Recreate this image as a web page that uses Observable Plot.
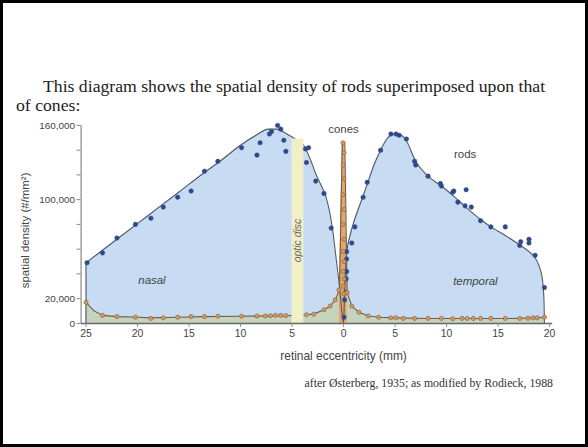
<!DOCTYPE html>
<html><head><meta charset="utf-8">
<script src="https://cdn.jsdelivr.net/npm/d3@7"></script>
<script src="https://cdn.jsdelivr.net/npm/@observablehq/plot@0.6"></script>
<style>
html,body{margin:0;padding:0;background:#000;width:588px;height:447px;overflow:hidden}
#page{position:absolute;left:3px;top:3px;width:582px;height:441px;background:#fff}
.t{position:absolute;font-family:"Liberation Serif","DejaVu Serif",serif;color:#222;white-space:nowrap}
#chart{position:absolute;left:-3px;top:107px}
#chart svg{overflow:visible}
</style></head>
<body><div id="page">
<div class="t" id="t1" style="left:40px;top:73px;font-size:17.7px">This diagram shows the spatial density of rods superimposed upon that</div>
<div class="t" id="t2" style="left:13px;top:92px;font-size:17.7px">of cones:</div>
<div id="chart"></div>
<div class="t" id="cap" style="right:32px;top:373px;font-size:11.8px;color:#333">after Østerberg, 1935; as modified by Rodieck, 1988</div>
</div>
<script>
// eccentricity in mm: negative = nasal, positive = temporal; density in #/mm²
const rodLineX = [-25,-22,-19,-16,-13.5,-12,-10,-8.5,-7.3,-6.5,-5.5,-4.7,-3.8,-3.2,-2.7,-2.2,-1.7,-1.1,-0.7,-0.4,-0.2,0,0.1,0.3,0.6,1.0,1.5,1.9,2.4,3.0,3.6,4.2,4.8,5.3,6.0,7.0,8.2,9.5,10.8,12,13.3,14.5,15.7,17,18,18.6,19.0,19.3,19.45,19.5];
const rodLineY = [49000,68000,87000,106000,122000,131000,144000,152000,157000,157000,153000,149000,143000,132000,121000,112000,102000,78000,51000,30000,12000,0,25000,57000,70000,82000,94000,103000,115000,129000,140000,149000,153000,153000,149000,131000,119000,111000,102000,93000,84000,77000,71000,64000,58000,53000,46000,36000,20000,0];
const rodDotX = [-24.9,-23.4,-22,-20.2,-18.7,-17.5,-16.1,-14.8,-13.5,-12.2,-9.9,-8.4,-8.1,-7.2,-7.0,-6.4,-6.1,-5.8,-5.6,-3.7,-3.4,-3.6,-2.7,-1.9,-1.2,0.05,0.1,0.2,0.25,0.3,0.3,0.3,0.8,1.1,1.9,2.3,3.6,4.6,5.1,5.4,6.1,6.9,7.0,8.2,9.4,9.5,10.6,10.7,11.9,11.1,11.8,12.4,13.3,14.3,15.7,17.1,17.2,18.0,18.0,18.6,19.5];
const rodDotY = [49000,57000,69000,80000,85000,94000,102000,107000,123000,131000,142000,136000,146000,153000,155000,160000,157000,148000,139000,141000,142000,130000,115000,105000,77000,5000,19000,25000,36000,42000,52000,58000,65000,78000,102000,114000,140000,153000,153000,152000,149000,131000,128000,119000,113000,111000,106000,107000,108000,98000,95000,94000,83000,78000,78000,63000,66000,68000,65000,55000,29000];
const coneLineX = [-25,-24.2,-23.4,-22,-20,-18.7,-16,-13.5,-10,-7,-5.5,-3.6,-2.9,-1.9,-1.3,-0.8,-0.4,-0.12,0.12,0.35,0.8,1.5,2.4,3.4,5,8,12,16,18.8,19.5];
const coneLineY = [17000,10000,6500,5500,5000,4500,5000,5500,5800,6000,6200,7000,7500,11000,14000,19000,27000,146000,146000,25000,14000,9000,6000,5000,4500,4000,4000,4000,4500,5000];
const coneDotX = [-25,-23.4,-22,-20.2,-18.7,-17.5,-16.1,-14.8,-13.5,-12.2,-9.9,-8.4,-7.6,-7.1,-6.6,-6.1,-5.6,-3.6,-2.9,-1.9,-1.3,-0.8,-0.45,-0.05,0.05,-0.05,0.05,-0.05,0.05,-0.05,0.05,-0.05,0.05,-0.05,0.05,-0.05,0.05,0.35,0.8,1.5,2.4,3.4,4.6,5.1,5.8,6.9,8.2,9.5,10.6,11.5,12,12.6,13.3,14.3,15.7,17.1,17.9,18.4,18.8,19.5];
const coneDotY = [17000,6500,5500,5000,4000,4500,5000,5500,5500,5800,5800,6000,6000,6200,6500,6500,6300,7000,7500,11000,14000,19000,27000,146000,138000,128000,117000,104000,92000,80000,68000,58000,50000,42000,36000,30000,24000,25000,14000,9000,6000,5000,4500,4500,4000,4000,4000,4000,3800,4000,4000,4000,4000,4000,4000,4000,4200,4500,4500,5000];
const spikeX = [-0.4,-0.12,0.12,0.35];
const spikeY = [27000,146000,146000,25000];
const opticDisc = [-5.0, -3.85];
const xTicks = [-25,-20,-15,-10,-5,0,5,10,15,20];
const yTicks = [0,20000,40000,60000,80000,100000,120000,140000,160000];
const yLabeled = [0,20000,100000,160000];
const plainLabels = [
  {x:0, y:157000, text:"cones"},
  {x:11.8, y:137000, text:"rods"}
];
const italicLabels = [
  {x:-18.6, y:35000, text:"nasal"},
  {x:12.8, y:34000, text:"temporal"}
];

const rods = rodLineX.map((x,i)=>({x, y:rodLineY[i]}));
const rodDots = rodDotX.map((x,i)=>({x, y:rodDotY[i]}));
const cones = coneLineX.map((x,i)=>({x, y:coneLineY[i]}));
const coneDots = coneDotX.map((x,i)=>({x, y:coneDotY[i]}));
const spike = spikeX.map((x,i)=>({x, y:spikeY[i]}));
const fmt = d3.format(",");

const chart = Plot.plot({
  width: 588, height: 260,
  marginLeft: 81, marginRight: 33, marginTop: 15, marginBottom: 46,
  x: {domain: [-25.48, 20.3]},
  y: {domain: [0, 160000]},
  style: {fontFamily: "'Liberation Sans', Arial, sans-serif", background: "transparent", color: "#444"},
  marks: [
    Plot.areaY(rods, {x:"x", y:"y", fill:"#c7dcf3", curve:"monotone-x"}),
    Plot.areaY(cones, {x:"x", y:"y", fill:"#c6d3bd", curve:"linear"}),
    Plot.areaY(spike, {x:"x", y:"y", fill:"#eaa566", curve:"linear"}),
    Plot.lineY(rods, {x:"x", y:"y", stroke:"#4f5966", strokeWidth:1.1, curve:"monotone-x"}),
    Plot.ruleX([-25], {y1:0, y2:49000, stroke:"#4f5966", strokeWidth:1.1}),
    Plot.lineY(cones, {x:"x", y:"y", stroke:"#6e5e4c", strokeWidth:1.1, curve:"linear"}),
    Plot.rect([opticDisc], {x1:d=>d[0], x2:d=>d[1], y1:0, y2:149000, fill:"#eff0c6"}),
    Plot.text(["optic disc"], {x:(opticDisc[0]+opticDisc[1])/2, y:67000, rotate:-90, fontSize:10.5, fontStyle:"italic", fill:"#666"}),
    Plot.dot(rodDots, {x:"x", y:"y", r:2.3, fill:"#2e4787", stroke:"#3b5595", strokeWidth:0.5}),
    Plot.dot(coneDots, {x:"x", y:"y", r:2.1, fill:"#d59a62", stroke:"#8c6644", strokeWidth:0.7}),
    Plot.ruleY([0], {stroke:"#666", strokeWidth:1.5}),
    Plot.ruleX([-25.48], {y1:0, y2:160000, stroke:"#888", strokeWidth:1.2}),
    Plot.axisY({ticks: yTicks, tickFormat: d => yLabeled.includes(d) ? fmt(d) : "", tickSize: 4, tickPadding: 2, fontSize: 10, label: null, stroke:"#888"}),
    Plot.axisX({ticks: xTicks, tickFormat: d => Math.abs(d), tickSize: 4, tickPadding: 2, fontSize: 10.5, label: null, stroke:"#888"}),
    Plot.text(plainLabels, {x:"x", y:"y", text:"text", fontSize:11.5, fill:"#444"}),
    Plot.text(italicLabels, {x:"x", y:"y", text:"text", fontStyle:"italic", fontSize:11.5, fill:"#444"}),
    Plot.text(["spatial density (#/mm²)"], {frameAnchor:"left", textAnchor:"middle", dx:-56, dy:6, rotate:-90, fontSize:11.5, fill:"#444"}),
    Plot.text(["retinal eccentricity (mm)"], {x:0, frameAnchor:"bottom", dy:37, fontSize:12, fill:"#444"})
  ]
});
document.getElementById("chart").appendChild(chart);
</script>
</body></html>
